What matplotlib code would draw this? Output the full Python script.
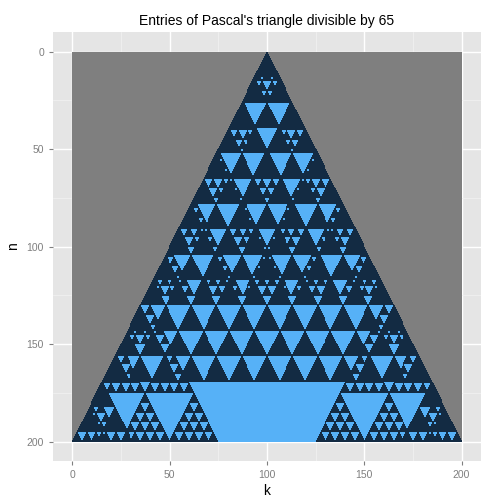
import numpy as np
import matplotlib
matplotlib.use("Agg")
import matplotlib.pyplot as plt
from matplotlib.colors import ListedColormap

plt.rcParams['font.family'] = ['Liberation Sans', 'DejaVu Sans']

# rows of Pascal's triangle shown and the divisor
n_rows = 200
divisor = 65
x_ticks = [0, 50, 100, 150, 200]
y_ticks = [0, 50, 100, 150, 200]

# build image: 0 = outside, 1 = not divisible, 2 = divisible
img = np.zeros((n_rows, 2 * n_rows))
row = [1]
for n in range(n_rows):
    start = n_rows - 1 - n
    for k, v in enumerate(row):
        img[n, start + 2 * k:start + 2 * k + 2] = 2 if v % divisor == 0 else 1
    row = [1] + [(row[i] + row[i + 1]) % divisor for i in range(len(row) - 1)] + [1]

cmap = ListedColormap(["#7F7F7F", "#132B43", "#56B1F7"])

fig = plt.figure(figsize=(5, 5), dpi=100)
ax = fig.add_axes([0.106, 0.078, 0.856, 0.858])
ax.set_facecolor("#E5E5E5")
ax.imshow(img, cmap=cmap, vmin=0, vmax=2, extent=[0, 200, 200, 0],
          interpolation="nearest", aspect="auto", zorder=1)

ax.set_xlim(-10, 210)
ax.set_ylim(210, -10)
ax.set_xticks(x_ticks)
ax.set_yticks(y_ticks)
ax.set_xticks([25, 75, 125, 175], minor=True)
ax.set_yticks([25, 75, 125, 175], minor=True)
ax.grid(which="major", color="white", linewidth=1.0, zorder=0)
ax.grid(which="minor", color="#F2F2F2", linewidth=0.5, zorder=0)
ax.set_axisbelow(True)
ax.tick_params(which="major", colors="#7F7F7F", labelsize=7.5, length=3, width=0.8)
ax.tick_params(which="minor", length=0)
for s in ax.spines.values():
    s.set_visible(False)

ax.set_xlabel("k", fontsize=10, labelpad=3)
ax.set_ylabel("n", fontsize=10, labelpad=5)
ax.set_title("Entries of Pascal's triangle divisible by 65", fontsize=10, pad=5)

fig.savefig("out.png", dpi=100)
